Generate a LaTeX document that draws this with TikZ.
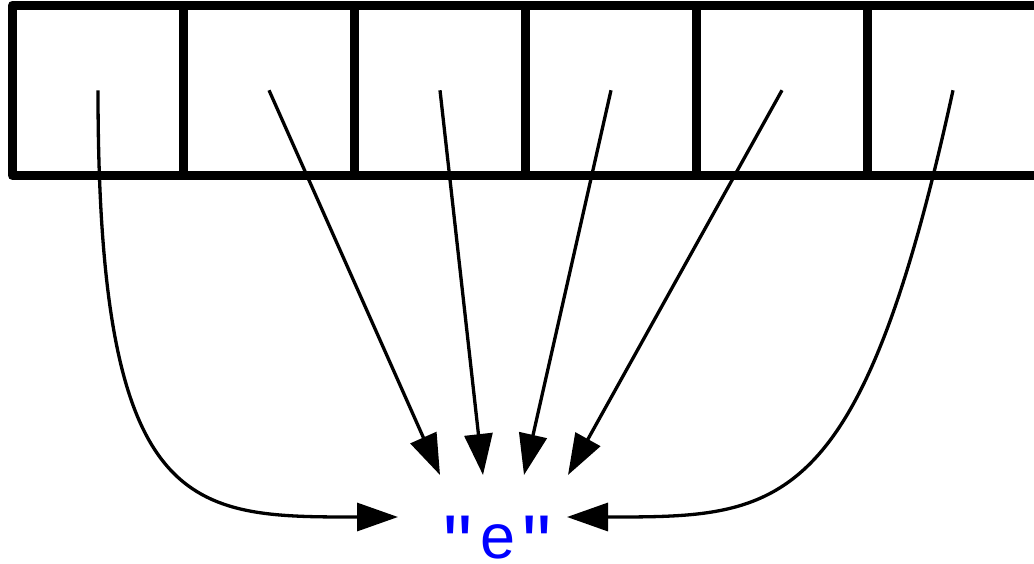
\documentclass[tikz,border=0pt]{standalone}
\usepackage{fontspec}
\setmainfont{Liberation Sans}
\newfontfamily\quotefont{Liberation Sans}[Ligatures=TeXOff]
\usetikzlibrary{arrows.meta}
\newcommand{\bigquote}{{\quotefont\fontsize{82}{82}\selectfont\raisebox{-14pt}{"}}}
\begin{document}
\begin{tikzpicture}[x=1pt,y=-1pt,
  cell/.style={draw, line width=9pt, minimum width=171pt, minimum height=170.5pt,
    inner sep=0pt, outer sep=0pt, line join=round},
  link/.style={line width=3.3pt, -{Triangle[length=41pt,width=28pt]}},
  label/.style={text=blue, anchor=base, inner sep=0pt, text depth=0pt,
    font=\fontsize{63}{63}\selectfont}]
\useasboundingbox (0,0) rectangle (1034,563);
\clip (0,0) rectangle (1034,563);
\foreach \i in {1,...,6}
  \node[cell] (c\i) at ({98+171*(\i-1)},90.25) {};
\node[label] (e) at (497.8,558.7) {\bigquote\kern7.5pt e\kern7.5pt\bigquote};
\coordinate (t1) at (398,517);
\coordinate (t2) at (440,475);
\coordinate (t3) at (483,475);
\coordinate (t4) at (524,475);
\coordinate (t5) at (568,475);
\coordinate (t6) at (567,517);
\draw[link] (c1.center) .. controls (98,517) and (190,517) .. (t1);
\draw[link] (c2.center) -- (t2);
\draw[link] (c3.center) -- (t3);
\draw[link] (c4.center) -- (t4);
\draw[link] (c5.center) -- (t5);
\draw[link] (c6.center) .. controls (860,517) and (780,517) .. (t6);
\end{tikzpicture}
\end{document}
